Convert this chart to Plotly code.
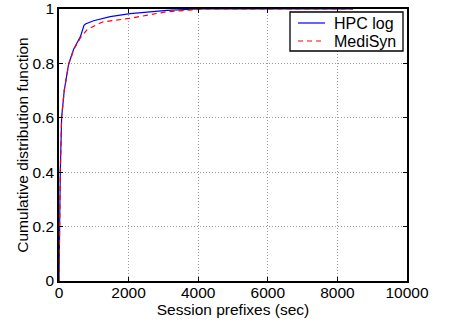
import plotly.graph_objects as go

# Session prefix durations (sec) and cumulative fractions
hpc_x = [0, 17, 37, 75, 150, 276, 420, 620, 718, 760, 994, 1472, 2046, 3100, 4000, 8450]
hpc_y = [0, 0.20, 0.40, 0.60, 0.70, 0.797, 0.852, 0.90, 0.94, 0.945, 0.957, 0.972, 0.983, 0.995, 1.0, 1.0]

medi_x = [0, 17, 37, 75, 150, 276, 420, 620, 812, 1243, 2046, 3100, 4200, 8450]
medi_y = [0, 0.20, 0.40, 0.60, 0.70, 0.795, 0.85, 0.895, 0.925, 0.952, 0.966, 0.99, 1.0, 1.0]

series_names = ["HPC log", "MediSyn"]
series_colors = ["#0000ff", "#ff0000"]
series_dash = ["solid", "5px,4px"]

x_ticks = [0, 2000, 4000, 6000, 8000, 10000]
x_tick_labels = ["0", "2000", "4000", "6000", "8000", "10000"]
y_ticks = [0, 0.2, 0.4, 0.6, 0.8, 1]
y_tick_labels = ["0", "0.2", "0.4", "0.6", "0.8", "1"]

FONT = "Liberation Sans, Arial, sans-serif"
W, H = 454, 322
ML, MR, MT, MB = 59, 47, 9, 41
PW, PH = W - ML - MR, H - MT - MB


def px_x(px):
    """Pixel column -> paper x fraction."""
    return (px - ML) / PW


def px_y(px):
    """Pixel row (from top) -> paper y fraction."""
    return (H - MB - px) / PH


fig = go.Figure()
for xs, ys, name, color, dash in zip([hpc_x, medi_x], [hpc_y, medi_y],
                                     series_names, series_colors, series_dash):
    fig.add_trace(go.Scatter(x=xs, y=ys, mode="lines", name=name,
                             line=dict(color=color, width=1.2, dash=dash)))

axis_common = dict(
    showline=True, linecolor="black", linewidth=1.5, mirror="ticks",
    ticks="inside", ticklen=4, tickcolor="black",
    showgrid=True, gridcolor="#9a9a9a", griddash="1px,2px", gridwidth=1,
    zeroline=False, ticklabeloverflow="allow", automargin=False,
    tickfont=dict(family=FONT, size=15.5, color="black"),
    title_font=dict(family=FONT, size=15.5, color="black"),
)

fig.update_xaxes(range=[0, 10000], tickvals=x_ticks, ticktext=x_tick_labels,
                 ticklabelstandoff=-3,
                 title_text="Session prefixes (sec)", title_standoff=0, **axis_common)
fig.update_yaxes(range=[0, 1], tickvals=y_ticks, ticktext=y_tick_labels,
                 title_text="Cumulative distribution function", title_standoff=0, **axis_common)

# Boxed legend in the upper-right corner of the plot area
fig.add_shape(type="rect", xref="paper", yref="paper",
              x0=px_x(290), x1=px_x(403), y0=px_y(51), y1=px_y(12),
              fillcolor="white", line=dict(color="black", width=1.3), layer="above")
for i, (name, color, dash) in enumerate(zip(series_names, series_colors, series_dash)):
    row = 23 + i * 18
    fig.add_shape(type="line", xref="paper", yref="paper",
                  x0=px_x(298), x1=px_x(325), y0=px_y(row), y1=px_y(row),
                  line=dict(color=color, width=1.2, dash=dash), layer="above")
    fig.add_annotation(xref="paper", yref="paper", x=px_x(332), y=px_y(row),
                       xanchor="left", yanchor="middle", text=name, showarrow=False,
                       font=dict(family=FONT, size=16, color="black"))

fig.update_layout(
    width=W, height=H,
    margin=dict(l=ML, r=MR, t=MT, b=MB),
    plot_bgcolor="white", paper_bgcolor="white",
    showlegend=False,
)

fig.write_html("out.html")
